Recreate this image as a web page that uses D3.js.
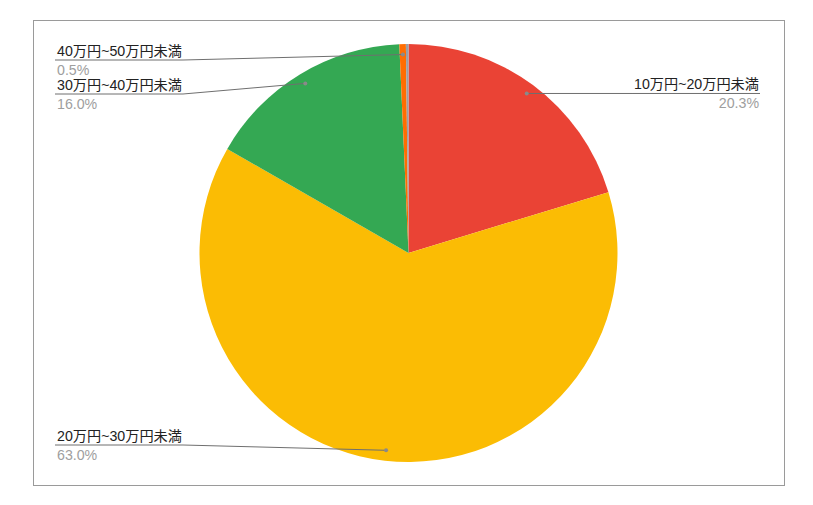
<!DOCTYPE html>
<html>
<head>
<meta charset="utf-8">
<script src="https://cdn.jsdelivr.net/npm/d3@7"></script>
<style>
  body { margin: 0; background: #fff; }
  text { font-family: Arial, "Liberation Sans", "Noto Sans CJK JP", sans-serif; }
</style>
</head>
<body>
<svg id="chart" width="813" height="505"></svg>
<script>
// slices, clockwise from 12 o'clock
const categories = ['10万円~20万円未満', '20万円~30万円未満', '30万円~40万円未満', '40万円~50万円未満', '50万円以上'];
const shares = [20.3, 63.0, 16.0, 0.5, 0.2];
const sliceColors = ['#ea4335', '#fbbc04', '#34a853', '#ff6d01', '#9aa0a6'];
const shownLabels = [true, true, true, true, false];

const width = 813, height = 505;
const cx = 408.5, cy = 253, radius = 209;
const fontSize = 14.2;
const labelGap = 34;

const svg = d3.select('#chart');

svg.append('rect')
  .attr('x', 33.5).attr('y', 20.5)
  .attr('width', 751).attr('height', 465)
  .style('fill', 'none')
  .style('stroke', '#9a9a9a');

const data = categories.map((c, i) => ({ name: c, value: shares[i], color: sliceColors[i], show: shownLabels[i] }));

const pie = d3.pie().value(d => d.value).sort(null);
const arcs = pie(data);
const arc = d3.arc().innerRadius(0).outerRadius(radius);

const g = svg.append('g').attr('transform', `translate(${cx},${cy})`);

g.selectAll('.slice')
  .data(arcs)
  .enter()
  .append('path')
  .attr('class', 'slice')
  .attr('d', arc)
  .style('fill', d => d.data.color);

// label layout: dot at 0.95r, text stacked on each side
let labels = arcs.filter(a => a.data.show).map(a => {
  const mid = (a.startAngle + a.endAngle) / 2;
  const px = cx + Math.sin(mid) * radius * 0.95;
  const py = cy - Math.cos(mid) * radius * 0.95;
  return { a, px, py, side: Math.sin(mid) >= 0 ? 'right' : 'left', y: py };
});

['left', 'right'].forEach(side => {
  const list = labels.filter(l => l.side === side).sort((p, q) => p.py - q.py);
  let prev = -Infinity;
  list.forEach(l => {
    let y = Math.min(Math.max(l.py, 60), 445);
    if (y < prev + labelGap) y = prev + labelGap;
    l.y = y;
    prev = y;
  });
});

const gl = svg.append('g');

labels.forEach(l => {
  const left = l.side === 'left';
  const tx = left ? 57 : 759;
  const name = gl.append('text')
    .attr('x', tx)
    .attr('y', l.y - 4.5)
    .attr('text-anchor', left ? 'start' : 'end')
    .style('font-size', fontSize + 'px')
    .style('fill', '#222')
    .text(l.a.data.name);
  gl.append('text')
    .attr('x', tx)
    .attr('y', l.y + 15)
    .attr('text-anchor', left ? 'start' : 'end')
    .style('font-size', fontSize + 'px')
    .style('fill', '#9e9e9e')
    .text(l.a.data.value.toFixed(1) + '%');

  const w = name.node().getComputedTextLength();
  const x0 = left ? tx - 2 : tx + 1;
  const x1 = left ? tx + w + 1 : tx - w - 2;
  gl.append('path')
    .attr('d', `M${x0},${l.y}L${x1},${l.y}L${l.px},${l.py}`)
    .style('fill', 'none')
    .style('stroke', '#6f6f6f')
    .style('stroke-width', 1);
  gl.append('circle')
    .attr('cx', l.px).attr('cy', l.py)
    .attr('r', 2)
    .style('fill', '#8a8a8a');
});
</script>
</body>
</html>
